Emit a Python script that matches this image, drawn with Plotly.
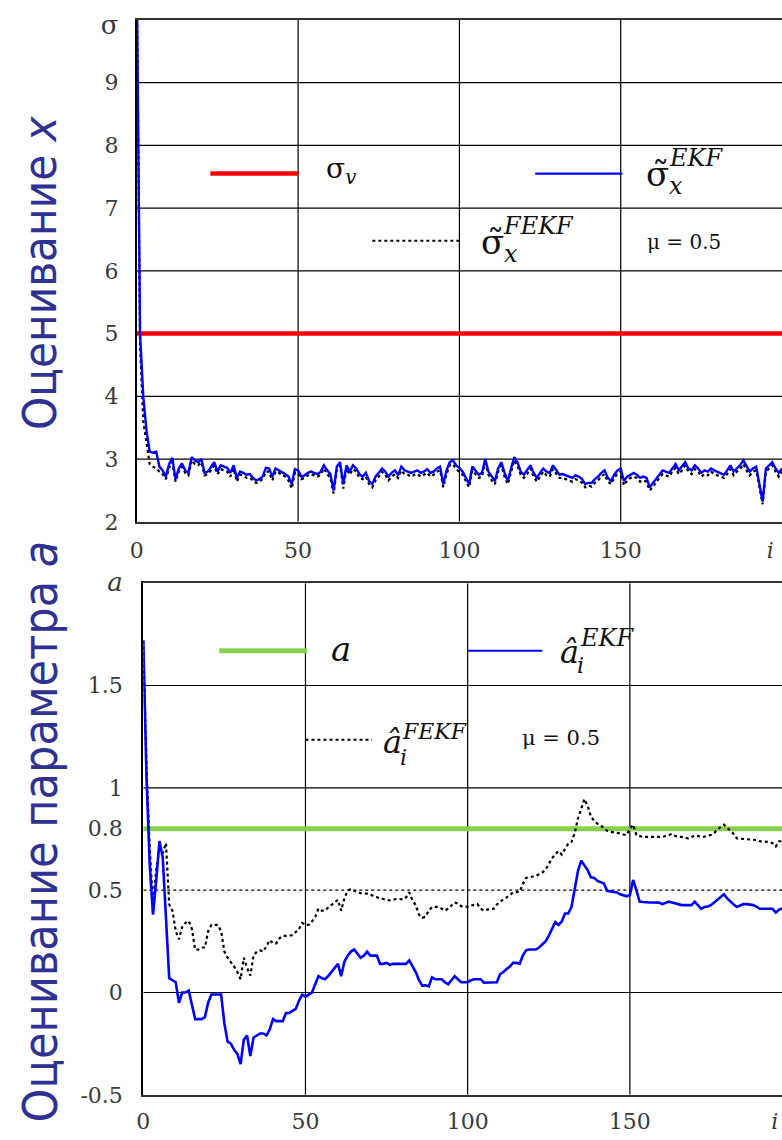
import plotly.graph_objects as go

# ---------------- data ----------------
I_TOP = list(range(201))
EKF_SIGMA = [
    10.6, 5.0, 4.0, 3.45, 3.12, 3.1, 3.12, 2.88, 2.82, 2.72,
    2.92, 3.02, 2.68, 2.85, 2.93, 2.82, 2.78, 3.03, 2.98, 2.95,
    3.0, 2.78, 2.8, 2.88, 2.95, 2.8, 2.9, 2.88, 2.86, 2.78,
    2.9, 2.7, 2.8, 2.78, 2.75, 2.76, 2.7, 2.66, 2.68, 2.72,
    2.86, 2.85, 2.72, 2.85, 2.82, 2.8, 2.76, 2.72, 2.6, 2.84,
    2.82, 2.72, 2.74, 2.78, 2.8, 2.78, 2.76, 2.8, 2.9, 2.82,
    2.76, 2.5, 2.88, 2.95, 2.6, 2.9, 2.8, 2.9, 2.85, 2.76,
    2.72, 2.78, 2.65, 2.6, 2.72, 2.78, 2.85, 2.8, 2.72, 2.78,
    2.82, 2.74, 2.88, 2.82, 2.8, 2.78, 2.8, 2.82, 2.78, 2.8,
    2.84, 2.78, 2.8, 2.85, 2.88, 2.6, 2.82, 2.95, 2.98, 2.9,
    2.86, 2.8, 2.7, 2.6, 2.88, 2.82, 2.75, 2.78, 3.0, 2.8,
    2.72, 2.65, 2.85, 2.95, 2.78, 2.65, 2.85, 3.03, 2.95, 2.8,
    2.75, 2.82, 2.9, 2.78, 2.7, 2.78, 2.85, 2.8, 2.78, 2.9,
    2.82, 2.75, 2.76, 2.74, 2.72, 2.7, 2.74, 2.72, 2.68, 2.6,
    2.62, 2.62, 2.68, 2.72, 2.78, 2.82, 2.7, 2.65, 2.75, 2.82,
    2.85, 2.65, 2.72, 2.75, 2.78, 2.75, 2.7, 2.72, 2.7, 2.55,
    2.62, 2.7, 2.76, 2.82, 2.8, 2.78, 2.85, 2.92, 2.82, 2.88,
    2.95, 2.85, 2.82, 2.9, 2.85, 2.78, 2.82, 2.8, 2.85, 2.82,
    2.8, 2.78, 2.75, 2.82, 2.9, 2.8, 2.85, 2.9, 2.98, 2.88,
    2.8, 2.85, 2.88, 2.6, 2.32, 2.85, 2.9, 2.95, 2.85, 2.78,
    2.85,
]
FEKF_SIGMA = [
    10.6, 4.8, 3.6, 3.25, 2.92, 2.88, 2.85, 2.8, 2.76, 2.68,
    2.86, 2.95, 2.64, 2.8, 2.88, 2.78, 2.74, 2.98, 2.92, 2.9,
    2.95, 2.74, 2.76, 2.82, 2.9, 2.76, 2.84, 2.82, 2.8, 2.72,
    2.85, 2.64, 2.75, 2.74, 2.7, 2.7, 2.66, 2.62, 2.64, 2.68,
    2.8, 2.8, 2.66, 2.8, 2.78, 2.75, 2.72, 2.66, 2.53, 2.78,
    2.78, 2.68, 2.7, 2.74, 2.76, 2.74, 2.72, 2.75, 2.85, 2.76,
    2.7, 2.45, 2.82, 2.9, 2.53, 2.85, 2.75, 2.84, 2.8, 2.7,
    2.68, 2.72, 2.6, 2.55, 2.66, 2.72, 2.8, 2.75, 2.66, 2.72,
    2.76, 2.7, 2.82, 2.76, 2.75, 2.72, 2.75, 2.76, 2.72, 2.75,
    2.78, 2.72, 2.75, 2.8, 2.82, 2.55, 2.76, 2.9, 2.92, 2.84,
    2.8, 2.75, 2.65, 2.55, 2.82, 2.76, 2.7, 2.72, 2.94, 2.75,
    2.66, 2.6, 2.8, 2.9, 2.72, 2.6, 2.8, 2.98, 2.9, 2.75,
    2.7, 2.76, 2.85, 2.72, 2.64, 2.72, 2.8, 2.74, 2.72, 2.84,
    2.76, 2.7, 2.7, 2.68, 2.66, 2.64, 2.68, 2.66, 2.62, 2.55,
    2.58, 2.56, 2.62, 2.66, 2.72, 2.76, 2.64, 2.6, 2.7, 2.76,
    2.8, 2.58, 2.66, 2.7, 2.72, 2.7, 2.64, 2.66, 2.64, 2.5,
    2.56, 2.64, 2.7, 2.76, 2.74, 2.72, 2.8, 2.86, 2.76, 2.82,
    2.9, 2.8, 2.76, 2.84, 2.8, 2.72, 2.76, 2.74, 2.8, 2.76,
    2.74, 2.72, 2.7, 2.76, 2.84, 2.74, 2.8, 2.84, 2.92, 2.82,
    2.74, 2.8, 2.82, 2.55, 2.28, 2.8, 2.85, 2.9, 2.8, 2.72,
    2.8,
]
SIGMA_V = 5.0

I_BOT = list(range(201))
EKF_A = [
    1.72, 1.05, 0.62, 0.38, 0.55, 0.74, 0.66, 0.38, 0.07, 0.06,
    0.05, -0.05, 0.0, 0.0, 0.01, -0.06, -0.13, -0.13, -0.13, -0.12,
    -0.05, -0.01, -0.01, -0.01, -0.01, -0.15, -0.24, -0.25, -0.28, -0.3,
    -0.35, -0.23, -0.21, -0.31, -0.22, -0.21, -0.2, -0.2, -0.21, -0.18,
    -0.13, -0.14, -0.14, -0.14, -0.1, -0.1, -0.09, -0.08, -0.04, -0.01,
    -0.02, -0.01, 0.0, 0.04, 0.08, 0.07, 0.065, 0.08, 0.1, 0.12,
    0.14, 0.08, 0.15, 0.18, 0.2, 0.21, 0.19, 0.17, 0.18, 0.2,
    0.18, 0.18, 0.18, 0.14, 0.14, 0.145, 0.135, 0.14, 0.14, 0.14,
    0.14, 0.14, 0.157, 0.13, 0.1, 0.06, 0.034, 0.035, 0.03, 0.074,
    0.065, 0.065, 0.065, 0.05, 0.04, 0.06, 0.08, 0.065, 0.05, 0.05,
    0.05, 0.06, 0.065, 0.065, 0.065, 0.048, 0.048, 0.048, 0.05, 0.05,
    0.09, 0.1, 0.115, 0.127, 0.145, 0.145, 0.14, 0.18, 0.206, 0.21,
    0.21, 0.21, 0.22, 0.233, 0.25, 0.277, 0.31, 0.344, 0.33, 0.347,
    0.386, 0.386, 0.418, 0.5, 0.594, 0.644, 0.62, 0.598, 0.563, 0.56,
    0.545, 0.54, 0.533, 0.497, 0.495, 0.49, 0.489, 0.48, 0.475, 0.47,
    0.475, 0.55, 0.5, 0.444, 0.442, 0.44, 0.44, 0.44, 0.44, 0.439,
    0.432, 0.44, 0.444, 0.44, 0.435, 0.43, 0.427, 0.427, 0.427, 0.427,
    0.444, 0.425, 0.409, 0.418, 0.42, 0.427, 0.44, 0.457, 0.47, 0.48,
    0.46, 0.444, 0.43, 0.418, 0.425, 0.432, 0.432, 0.43, 0.427, 0.42,
    0.409, 0.409, 0.409, 0.409, 0.409, 0.39, 0.405, 0.41, 0.41, 0.41,
    0.41,
]
FEKF_A = [
    1.72, 1.1, 0.7, 0.44, 0.6, 0.71, 0.68, 0.73, 0.43, 0.4,
    0.3, 0.26, 0.32, 0.34, 0.35, 0.31, 0.21, 0.21, 0.22, 0.22,
    0.3, 0.33, 0.33, 0.33, 0.3, 0.2, 0.17, 0.15, 0.127, 0.1,
    0.065, 0.17, 0.12, 0.083, 0.18, 0.2, 0.206, 0.2, 0.23, 0.256,
    0.24, 0.24, 0.265, 0.277, 0.277, 0.277, 0.28, 0.295, 0.31, 0.34,
    0.33, 0.33, 0.347, 0.37, 0.41, 0.4, 0.4, 0.415, 0.427, 0.44,
    0.453, 0.4, 0.46, 0.497, 0.506, 0.497, 0.49, 0.485, 0.485, 0.482,
    0.48, 0.47, 0.465, 0.46, 0.455, 0.452, 0.45, 0.455, 0.457, 0.457,
    0.455, 0.465, 0.489, 0.45, 0.427, 0.38, 0.365, 0.37, 0.4, 0.418,
    0.418, 0.418, 0.41, 0.4, 0.41, 0.427, 0.44, 0.435, 0.422, 0.42,
    0.418, 0.425, 0.43, 0.432, 0.41, 0.4, 0.405, 0.409, 0.409, 0.43,
    0.444, 0.455, 0.462, 0.475, 0.489, 0.49, 0.492, 0.53, 0.56, 0.563,
    0.565, 0.57, 0.578, 0.586, 0.6, 0.63, 0.656, 0.675, 0.691, 0.674,
    0.7, 0.727, 0.735, 0.78, 0.85, 0.9, 0.945, 0.91, 0.86, 0.838,
    0.825, 0.817, 0.805, 0.79, 0.785, 0.783, 0.783, 0.778, 0.772, 0.77,
    0.8, 0.82, 0.77, 0.765, 0.76, 0.76, 0.76, 0.76, 0.76, 0.76,
    0.76, 0.765, 0.77, 0.775, 0.765, 0.76, 0.76, 0.758, 0.753, 0.76,
    0.767, 0.765, 0.76, 0.762, 0.765, 0.77, 0.78, 0.797, 0.81, 0.82,
    0.805, 0.79, 0.775, 0.753, 0.752, 0.752, 0.75, 0.75, 0.748, 0.745,
    0.739, 0.738, 0.737, 0.735, 0.73, 0.714, 0.739, 0.74, 0.74, 0.74,
    0.74,
]
A_TRUE = 0.8
A_REF = 0.5

TOP_XTICKS = [0, 50, 100, 150, 196.4]
TOP_XTEXT = ["0", "50", "100", "150", "<i>i</i>"]
TOP_YTICKS = [2, 3, 4, 5, 6, 7, 8, 9, 9.9]
TOP_YTEXT = ["2", "3", "4", "5", "6", "7", "8", "9", "<span style='font-size:26px'>σ</span>"]
BOT_XTICKS = [0, 50, 100, 150, 194.7]
BOT_XTEXT = ["0", "50", "100", "150", "<i>i</i>"]
BOT_YTICKS = [-0.5, 0, 0.5, 0.8, 1, 1.5, 2.0]
BOT_YTEXT = ["-0.5", "0", "0.5", "0.8", "1", "1.5", "<span style='font-size:26px'><i>a</i></span>"]
TOP_XGRID = [50, 100, 150]
TOP_YGRID = [3, 4, 5, 6, 7, 8, 9]
BOT_XGRID = [50, 100, 150]
BOT_YGRID = [0, 1, 1.5]

# ---------------- figure ----------------
W, H = 782, 1140
SERIF = "DejaVu Serif"
BLUE = "#0000FF"
RED = "#FF0000"
GREEN = "#8CCF4E"
NAVY = "#2E3192"

fig = go.Figure()

def line(x, y, color, width, dash="solid", xa="x", ya="y"):
    fig.add_trace(go.Scatter(x=x, y=y, mode="lines", xaxis=xa, yaxis=ya,
                             line=dict(color=color, width=width, dash=dash),
                             hoverinfo="skip", showlegend=False))

# top panel
line([0, 200], [SIGMA_V, SIGMA_V], RED, 4.5)
line(I_TOP, FEKF_SIGMA, "#000000", 2.2, "dot")
line(I_TOP, EKF_SIGMA, BLUE, 2.4)
# legend samples top
line([22.8, 50], [7.55, 7.55], RED, 4.5)
line([123.5, 150.5], [7.55, 7.55], BLUE, 2.2)
line([73, 100], [6.48, 6.48], "#000000", 1.8, "dot")

# bottom panel
line([0, 200], [A_TRUE, A_TRUE], GREEN, 5, xa="x2", ya="y2")
line([0, 200], [A_REF, A_REF], "#000000", 1.2, "dot", xa="x2", ya="y2")
line(I_BOT, FEKF_A, "#000000", 2.2, "dot", xa="x2", ya="y2")
line(I_BOT, EKF_A, BLUE, 2.6, xa="x2", ya="y2")
# legend samples bottom
line([23.4, 50.5], [1.67, 1.67], GREEN, 5, xa="x2", ya="y2")
line([100, 123], [1.67, 1.67], BLUE, 2.2, xa="x2", ya="y2")
line([50, 70.5], [1.235, 1.235], "#000000", 1.8, "dot", xa="x2", ya="y2")

shapes = []
for g in TOP_XGRID:
    shapes.append(dict(type="line", xref="x", yref="y", x0=g, x1=g, y0=2, y1=10,
                       line=dict(color="#000", width=1.2), layer="below"))
for g in TOP_YGRID:
    shapes.append(dict(type="line", xref="x", yref="y", x0=0, x1=200, y0=g, y1=g,
                       line=dict(color="#000", width=1.2), layer="below"))
for g in BOT_XGRID:
    shapes.append(dict(type="line", xref="x2", yref="y2", x0=g, x1=g, y0=-0.5, y1=2.0,
                       line=dict(color="#000", width=1.2), layer="below"))
for g in BOT_YGRID:
    shapes.append(dict(type="line", xref="x2", yref="y2", x0=0, x1=200, y0=g, y1=g,
                       line=dict(color="#000", width=1.2), layer="below"))

tickfont = dict(family=SERIF, size=22, color="#3a3a3a")
axis_common = dict(showgrid=False, zeroline=False, showline=True, linecolor="#333",
                   linewidth=2, tickfont=tickfont, ticks="", tickmode="array",
                   ticklabeloverflow="allow")

def px(xp):
    return xp / W

def py(yp):
    return 1 - yp / H

fig.update_layout(
    width=W, height=H, margin=dict(l=0, r=0, t=0, b=0),
    paper_bgcolor="white", plot_bgcolor="white",
    font=dict(family=SERIF),
    xaxis=dict(axis_common, domain=[px(131), 1], range=[0, 200], anchor="y",
               tickvals=TOP_XTICKS, ticktext=TOP_XTEXT, mirror=True, ticklabelstandoff=8),
    yaxis=dict(axis_common, domain=[py(519), py(4)], range=[2, 10], anchor="x",
               tickvals=TOP_YTICKS, ticktext=TOP_YTEXT, linecolor="#000", ticklabelstandoff=12),
    xaxis2=dict(axis_common, domain=[px(137.5), 1], range=[0, 196.9], anchor="y2",
                tickvals=BOT_XTICKS, ticktext=BOT_XTEXT, mirror=True, ticklabelstandoff=6),
    yaxis2=dict(axis_common, domain=[py(1107), py(582)], range=[-0.5, 2.0], anchor="x2",
                tickvals=BOT_YTICKS, ticktext=BOT_YTEXT, linecolor="#000", ticklabelstandoff=14),
    shapes=shapes,
)

ann = []
def text(x, y, s, size, xref="x", yref="y", xanchor="left", yanchor="middle", family=SERIF,
         color="#111", angle=0):
    ann.append(dict(x=x, y=y, xref=xref, yref=yref, text=s, showarrow=False,
                    xanchor=xanchor, yanchor=yanchor, textangle=angle,
                    font=dict(family=family, size=size, color=color)))

# top legend texts
text(58.0, 7.6, "σ<sub><i>v</i></sub>", 28)
text(157.2, 7.55, "σ\u0303", 34)
text(164.2, 7.8, "<i>EKF</i>", 24)
text(164.4, 7.35, "<i>x</i>", 24)
text(106.0, 6.46, "σ\u0303", 34)
text(113.0, 6.72, "<i>FEKF</i>", 24)
text(113.2, 6.27, "<i>x</i>", 24)
text(157.6, 6.46, "μ = 0.5", 20)

# bottom legend texts
text(57.2, 1.68, "<i>a</i>", 34, "x2", "y2")
text(128.0, 1.665, "<i>â</i>", 32, "x2", "y2")
text(134.0, 1.73, "<i>EKF</i>", 24, "x2", "y2")
text(133.0, 1.6, "<i>i</i>", 22, "x2", "y2")
text(73.2, 1.225, "<i>â</i>", 32, "x2", "y2")
text(79.2, 1.275, "<i>FEKF</i>", 22, "x2", "y2")
text(78.4, 1.15, "<i>i</i>", 22, "x2", "y2")
text(116.0, 1.245, "μ = 0.5", 21, "x2", "y2")

# rotated axis titles
TITLE_FONT = "DejaVu Sans Condensed, Liberation Sans, DejaVu Sans, sans-serif"
text(px(33), py(263), "Оценивание <i>x</i>", 47,
     "paper", "paper", "center", "middle", TITLE_FONT, NAVY, -90)
text(px(33), py(837), "Оценивание параметра <i>a</i>", 48,
     "paper", "paper", "center", "middle", TITLE_FONT, NAVY, -90)

fig.update_layout(annotations=ann)
fig.write_html("out.html")
